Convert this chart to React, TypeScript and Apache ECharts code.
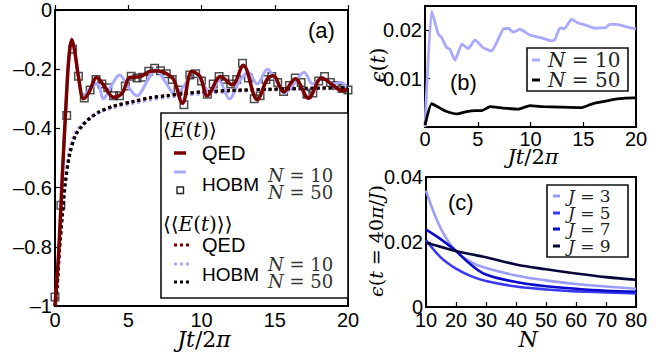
import { useEffect, useRef } from 'react';
import * as echarts from 'echarts';

const SANS = '"Liberation Sans", Arial, Helvetica, sans-serif';
const SERIF = '"DejaVu Serif", "Liberation Serif", serif';

// ---------- panel (a): energy vs time ----------
const QED_T = [0, 0.25, 0.5, 0.75, 0.95, 1.15, 1.35, 1.6, 1.95, 2.3, 2.85, 3.4, 4.0, 4.6, 5.1, 5.8, 6.5, 7.0, 7.6, 8.1, 8.7, 9.35, 9.9, 10.4, 11.3, 12.1, 12.85, 13.8, 14.5, 14.9, 15.6, 16.4, 17.3, 18.2, 19.0, 19.6, 20.0];
const QED_E = [-1.0, -0.82, -0.56, -0.32, -0.16, -0.1, -0.14, -0.225, -0.3, -0.28, -0.228, -0.26, -0.295, -0.28, -0.228, -0.225, -0.207, -0.205, -0.215, -0.235, -0.315, -0.207, -0.225, -0.29, -0.225, -0.253, -0.187, -0.303, -0.232, -0.222, -0.277, -0.232, -0.298, -0.23, -0.255, -0.272, -0.268];

const N10_T = [0, 0.25, 0.5, 0.75, 0.95, 1.15, 1.35, 1.6, 1.95, 2.5, 2.9, 3.3, 3.8, 4.4, 5.0, 5.6, 6.3, 6.9, 7.5, 8.2, 8.9, 9.4, 10.0, 10.6, 11.2, 11.9, 12.6, 13.2, 13.8, 14.5, 15.1, 15.7, 16.3, 17.0, 17.6, 18.3, 18.9, 19.5, 20.0];
const N10_E = [-1.0, -0.82, -0.56, -0.32, -0.16, -0.1, -0.14, -0.225, -0.29, -0.26, -0.25, -0.3, -0.26, -0.22, -0.26, -0.29, -0.24, -0.2, -0.24, -0.285, -0.25, -0.205, -0.24, -0.28, -0.24, -0.3, -0.24, -0.21, -0.25, -0.2, -0.24, -0.28, -0.25, -0.21, -0.25, -0.23, -0.25, -0.245, -0.265];

// HOBM N = 50 samples, one every 0.4 in Jt/2π
const N50_STEP = 0.4;
const N50_E = [-0.97, -0.66, -0.356, -0.133, -0.224, -0.297, -0.27, -0.235, -0.25, -0.263, -0.29, -0.29, -0.257, -0.224, -0.23, -0.227, -0.207, -0.197, -0.205, -0.215, -0.235, -0.27, -0.32, -0.22, -0.215, -0.24, -0.285, -0.25, -0.225, -0.235, -0.25, -0.235, -0.18, -0.23, -0.3, -0.29, -0.235, -0.225, -0.245, -0.275, -0.255, -0.23, -0.245, -0.285, -0.28, -0.24, -0.225, -0.245, -0.255, -0.265, -0.27];

// time averages
const AVG_T = [0, 0.15, 0.3, 0.5, 0.7, 1.0, 1.4, 1.9, 2.3, 3.0, 4.0, 5.3, 6.5, 7.6, 9.0, 10.0, 12.0, 14.5, 17.0, 20.0];
const AVG_QED = [-1.0, -0.93, -0.81, -0.69, -0.585, -0.487, -0.422, -0.388, -0.368, -0.344, -0.324, -0.309, -0.296, -0.289, -0.281, -0.277, -0.272, -0.268, -0.265, -0.262];
const AVG_N10 = [-1.0, -0.92, -0.79, -0.665, -0.565, -0.47, -0.412, -0.383, -0.367, -0.347, -0.33, -0.316, -0.304, -0.296, -0.288, -0.283, -0.276, -0.271, -0.268, -0.265];
const AVG_N50 = [-1.0, -0.94, -0.82, -0.7, -0.59, -0.49, -0.425, -0.39, -0.37, -0.345, -0.325, -0.31, -0.297, -0.29, -0.282, -0.277, -0.272, -0.268, -0.265, -0.262];

// ---------- panel (b): error vs time ----------
const ERR10_T = [0, 0.63, 1.26, 1.58, 2.05, 2.37, 2.84, 3.5, 4.1, 4.74, 5.5, 6.3, 7.4, 7.9, 8.35, 9.0, 9.95, 10.9, 12.0, 12.3, 12.8, 13.2, 13.9, 14.5, 15.3, 16.1, 16.6, 17.1, 17.5, 18.2, 19.1, 20.0];
const ERR10 = [0.0, 0.024, 0.0192, 0.0185, 0.0164, 0.016, 0.0138, 0.0171, 0.0162, 0.018, 0.0164, 0.0157, 0.0202, 0.0204, 0.0196, 0.0202, 0.019, 0.0185, 0.0178, 0.018, 0.0205, 0.0203, 0.0223, 0.0215, 0.021, 0.0204, 0.0205, 0.0205, 0.0212, 0.0212, 0.0207, 0.0203];
const ERR50_T = [0, 0.63, 1.42, 2.05, 3.0, 3.95, 4.74, 5.4, 6.16, 7.4, 8.85, 9.95, 11.2, 12.8, 14.85, 16.0, 17.2, 18.2, 19.8, 20.0];
const ERR50 = [0.0004, 0.0048, 0.0039, 0.0032, 0.0027, 0.0032, 0.0034, 0.0034, 0.0042, 0.0039, 0.0037, 0.0044, 0.0042, 0.0041, 0.004, 0.0049, 0.0054, 0.0058, 0.006, 0.006];

// ---------- panel (c): error at t = 40π/J vs N ----------
const N_SITES = [10, 15, 20, 25, 30, 40, 50, 60, 70, 80];
const ERR_J3 = [0.0358, 0.024, 0.0172, 0.0138, 0.012, 0.0097, 0.0082, 0.0071, 0.0063, 0.0056];
const ERR_J5 = [0.0206, 0.0152, 0.0118, 0.0095, 0.008, 0.0063, 0.0054, 0.0048, 0.0045, 0.0042];
const ERR_J7 = [0.0238, 0.0208, 0.0172, 0.013, 0.01, 0.0077, 0.0064, 0.0056, 0.005, 0.0047];
const ERR_J9 = [0.0198, 0.0185, 0.0172, 0.0162, 0.0153, 0.0131, 0.0116, 0.0103, 0.0092, 0.0084];
const J_LABELS = ['3', '5', '7', '9'];

const C_RED = '#7a0000';
const C_LIGHT = '#a9a9ff';
const J_COLORS = ['#9c9cfa', '#3a3af2', '#0a0acc', '#06063c'];

const zip = (xs: number[], ys: number[]) => xs.map((x, i) => [x, ys[i]]);

const tickLabel = { fontFamily: SANS, fontSize: 20, color: '#000' };

function xAxisFor(grid: number, min: number, max: number, interval: number, margin: number) {
  return {
    type: 'value', gridIndex: grid, min, max, interval,
    axisLine: { show: true, lineStyle: { color: '#000', width: 2 } },
    axisTick: { show: true, inside: true, length: 5, lineStyle: { color: '#000', width: 1.2 } },
    splitLine: { show: false },
    axisLabel: { ...tickLabel, margin, lineHeight: 16, showMaxLabel: true, showMinLabel: true },
  };
}

function yAxisFor(grid: number, min: number, max: number, interval: number, margin: number, fmt: (v: number) => string, showMax = true) {
  return {
    type: 'value', gridIndex: grid, min, max, interval,
    axisLine: { show: true, lineStyle: { color: '#000', width: 2 } },
    axisTick: { show: true, inside: true, length: 5, lineStyle: { color: '#000', width: 1.2 } },
    splitLine: { show: false },
    axisLabel: { ...tickLabel, margin, lineHeight: 16, formatter: fmt, showMaxLabel: showMax },
  };
}

const mathRich = (size: number, fill: string, lh: number) => ({
  i: { fontFamily: SERIF, fontStyle: 'italic', fontSize: size, fill, lineHeight: lh },
});

function mathText(x: number, y: number, text: string, size: number, fill = '#000', align = 'left', rotation = 0, lh = size) {
  return {
    type: 'text', x, y, rotation, z: 110,
    style: { text, x: 0, y: 0, fontFamily: SERIF, fontSize: size, lineHeight: lh, fill, align, verticalAlign: 'middle', rich: mathRich(size, fill, lh) },
  };
}

function sansText(x: number, y: number, text: string, size: number) {
  return {
    type: 'text', x, y, z: 110,
    style: { text, fontFamily: SANS, fontSize: size, lineHeight: size - 2, fill: '#000', align: 'left', verticalAlign: 'middle' },
  };
}

function swatch(x1: number, x2: number, y: number, color: string, width: number, dash?: number[]) {
  return {
    type: 'line', z: 110,
    shape: { x1, y1: y, x2, y2: y },
    style: { stroke: color, lineWidth: width, lineDash: dash, lineCap: 'butt' },
  };
}

function box(x: number, y: number, width: number, height: number) {
  return {
    type: 'rect', z: 105,
    shape: { x, y, width, height },
    style: { fill: '#fff', stroke: '#111', lineWidth: 1.6 },
  };
}

const lineSeries = (name: string, grid: number, data: number[][], color: string, width: number, smooth: number, dash?: number[]) => ({
  name, type: 'line', xAxisIndex: grid, yAxisIndex: grid, data, showSymbol: false, smooth,
  lineStyle: { color, width, type: dash ?? 'solid', cap: 'butt' },
  itemStyle: { color },
  silent: true,
});

const minusFmt = (v: number) => (v === 0 ? '0' : '–' + String(+Math.abs(v).toFixed(2)));

function buildOption() {
  const dot = [3, 3];
  const squares = N50_E.map((e, i) => [+(i * N50_STEP).toFixed(2), e]);
  const jSeries = [ERR_J3, ERR_J5, ERR_J7, ERR_J9].map((vals, k) =>
    lineSeries('J=' + J_LABELS[k], 2, zip(N_SITES, vals), J_COLORS[k], 2.6, 0.4));

  const graphic: any[] = [
    // panel tags
    sansText(308, 30, '(a)', 22),
    sansText(450, 82, '(b)', 22),
    sansText(448, 202, '(c)', 22),
    // axis titles
    mathText(204, 339, '{i|Jt}/2{i|π}', 22, '#000', 'center'),
    mathText(533, 157, '{i|Jt}/2{i|π}', 21, '#000', 'center', 0, 18),
    mathText(528, 339, '{i|N}', 22, '#000', 'center'),
    mathText(378, 65, '{i|ϵ}({i|t})', 20, '#000', 'center', Math.PI / 2),
    mathText(376, 241, '{i|ϵ}({i|t} = 40{i|π}/{i|J})', 19, '#000', 'center', Math.PI / 2),

    // legend (a)
    box(161, 113, 187, 185),
    mathText(163, 130, '⟨{i|E}({i|t})⟩', 20),
    swatch(174, 186, 153, C_RED, 3.5),
    sansText(202, 153, 'QED', 20),
    swatch(174, 186, 172, C_LIGHT, 3),
    { type: 'rect', z: 110, shape: { x: 177, y: 187, width: 6.5, height: 6.5 }, style: { fill: 'none', stroke: '#222', lineWidth: 1.4 } },
    sansText(202, 184, 'HOBM', 19),
    mathText(268, 175, '{i|N} = 10', 18, '#333', 'left', 0, 15),
    mathText(268, 192, '{i|N} = 50', 18, '#333', 'left', 0, 15),
    mathText(163, 224, '⟨⟨{i|E}({i|t})⟩⟩', 20),
    swatch(174, 189, 245, C_RED, 3, dot),
    sansText(202, 245, 'QED', 20),
    swatch(174, 189, 264, C_LIGHT, 3, dot),
    swatch(174, 189, 282, '#000', 3, dot),
    sansText(202, 274, 'HOBM', 19),
    mathText(268, 264, '{i|N} = 10', 18, '#333', 'left', 0, 15),
    mathText(268, 281, '{i|N} = 50', 18, '#333', 'left', 0, 15),

    // legend (b)
    box(527, 48, 101, 43),
    swatch(532, 540, 60, C_LIGHT, 3),
    mathText(548, 60, '{i|N} = 10', 20, '#222', 'left', 0, 18),
    swatch(532, 540, 80, '#000', 3),
    mathText(548, 80, '{i|N} = 50', 20, '#222', 'left', 0, 18),

    // legend (c)
    box(547, 185, 81, 72),
    ...J_LABELS.flatMap((j, k) => {
      const y = [196, 213, 229, 246][k];
      return [swatch(553, 560, y, J_COLORS[k], 3), mathText(568, y, '{i|J} = ' + j, 17, '#222', 'left', 0, 15)];
    }),
  ];

  return {
    animation: false,
    backgroundColor: '#fff',
    grid: [
      { left: 55, top: 6, width: 293, height: 300, show: true, borderColor: '#000', borderWidth: 2 },
      { left: 425, top: 6, width: 211, height: 121, show: true, borderColor: '#000', borderWidth: 2 },
      { left: 426, top: 177, width: 210, height: 130, show: true, borderColor: '#000', borderWidth: 2 },
    ],
    xAxis: [
      xAxisFor(0, 0, 20, 5, 6),
      xAxisFor(1, 0, 20, 5, 4),
      xAxisFor(2, 10, 80, 10, 5),
    ],
    yAxis: [
      yAxisFor(0, -1, 0, 0.2, 3, minusFmt),
      yAxisFor(1, 0, 0.025, 0.01, 3, (v: number) => (v === 0 ? '' : v.toFixed(2)), false),
      yAxisFor(2, 0, 0.04, 0.02, 3, (v: number) => (v === 0 ? '0' : v.toFixed(2))),
    ],
    series: [
      lineSeries('HOBM N=10', 0, zip(N10_T, N10_E), C_LIGHT, 3, 0.35),
      lineSeries('avg HOBM N=10', 0, zip(AVG_T, AVG_N10), C_LIGHT, 3, 0.3, dot),
      lineSeries('avg QED', 0, zip(AVG_T, AVG_QED), C_RED, 3, 0.3, dot),
      lineSeries('avg HOBM N=50', 0, zip(AVG_T, AVG_N50), '#000', 3, 0.3, dot),
      {
        name: 'HOBM N=50', type: 'scatter', xAxisIndex: 0, yAxisIndex: 0, data: squares,
        symbol: 'rect', symbolSize: 7.5, silent: true,
        itemStyle: { color: 'rgba(255,255,255,0)', borderColor: '#222', borderWidth: 1.5 },
      },
      lineSeries('QED', 0, zip(QED_T, QED_E), C_RED, 3.5, 0.35),
      lineSeries('N=10', 1, zip(ERR10_T, ERR10), C_LIGHT, 2.8, 0.15),
      lineSeries('N=50', 1, zip(ERR50_T, ERR50), '#000', 2.8, 0.15),
      ...jSeries,
    ],
    graphic,
  };
}

export default function App() {
  const ref = useRef<HTMLDivElement>(null);
  useEffect(() => {
    if (!ref.current) return;
    const chart = echarts.init(ref.current, null, { renderer: 'svg' });
    chart.setOption(buildOption() as any);
    return () => chart.dispose();
  }, []);
  return (
    <div
      ref={ref}
      style={{ position: 'fixed', left: 0, top: 0, width: 669, height: 355, background: '#fff' }}
    />
  );
}
